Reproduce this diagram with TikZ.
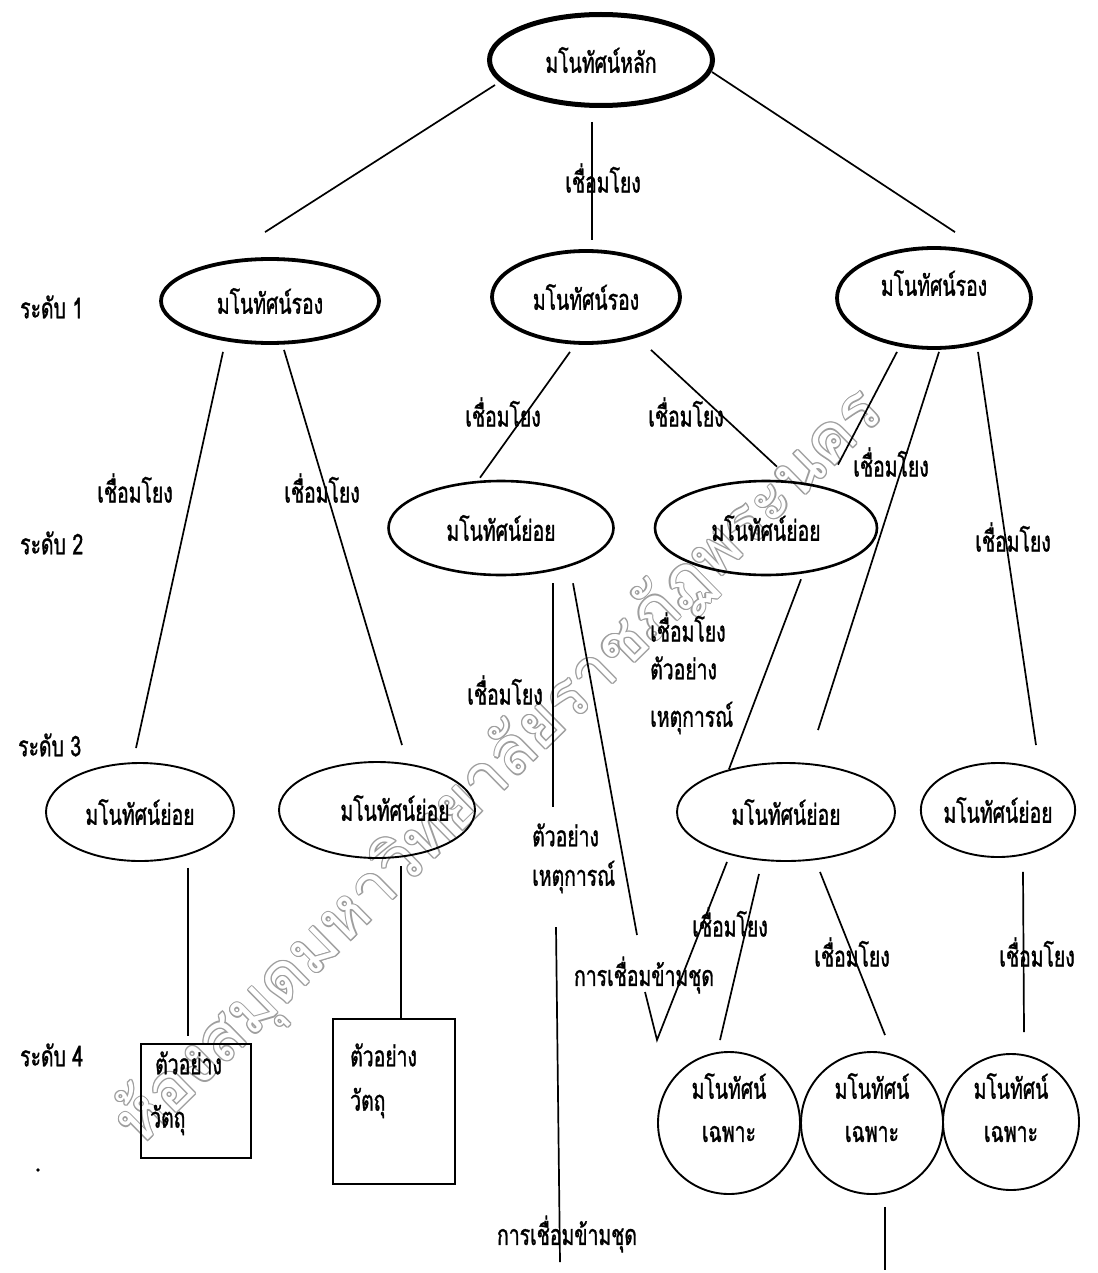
\documentclass[tikz,border=0pt]{standalone}
\usepackage{fontspec}
\newfontfamily\thaifont[Script=Thai,FakeStretch=0.68,FakeBold=1.1]{Loma}
\newfontfamily\markfont[Script=Thai]{Loma}
\usetikzlibrary{shapes.geometric}
\begin{document}
\begin{tikzpicture}[x=1pt,y=-1pt,
  txt/.style={font=\thaifont\fontsize{28.5}{30}\selectfont, inner sep=0pt},
  oval/.style={draw, ellipse, inner sep=0pt, txt},
  topoval/.style={oval, line width=5pt},
  midoval/.style={oval, line width=3.8pt},
  suboval/.style={oval, line width=2.6pt},
  leafoval/.style={oval, line width=1.9pt},
  ring/.style={draw, circle, inner sep=0pt, line width=1.9pt},
  card/.style={draw, rectangle, line width=2pt, inner sep=0pt},
  conn/.style={line width=1.7pt},
  lbl/.style={txt},
  lbll/.style={txt, anchor=west},
  stampstyle/.style={font=\markfont\fontsize{66}{70}\selectfont, rotate=44.5, inner sep=0pt},
]
\useasboundingbox (0,0) rectangle (1097,1273);
\fill[white] (0,0) rectangle (1097,1273);

% library stamp across the sheet, drawn as hollow letters
\foreach \dx/\dy [count=\i] in {1.3/0,-1.3/0,0/1.3,0/-1.3,0.9/0.9,-0.9/0.9,0.9/-0.9,-0.9/-0.9}{
  \node[stampstyle, text=black!38] (stamp-\i) at (500+\dx,768+\dy) {ห้องสมุดมหาวิทยาลัยราชภัฏพระนคร};
}
\node[stampstyle, text=white] (stamp) at (500,768) {ห้องสมุดมหาวิทยาลัยราชภัฏพระนคร};

% level captions
\node[lbll] (lv1) at (20,307) {ระดับ 1};
\node[lbll] (lv2) at (20,543) {ระดับ 2};
\node[lbll] (lv3) at (18,745) {ระดับ 3};
\node[lbll] (lv4) at (20,1055) {ระดับ 4};
\fill (38,1170) circle (1.8);

% main concept
\node[topoval, minimum width=223, minimum height=91] (main) at (601,60) {มโนทัศน์หลัก};

% level 1
\node[midoval, minimum width=218, minimum height=84] (l1a) at (270,301) {มโนทัศน์รอง};
\node[midoval, minimum width=188, minimum height=92] (l1b) at (586,297) {มโนทัศน์รอง};
\node[midoval, minimum width=194, minimum height=100] (l1c) at (934,298) {};
\node[lbl] (l1c-t) at (934,283) {มโนทัศน์รอง};

% level 2
\node[suboval, minimum width=225, minimum height=94] (l2a) at (501,528) {มโนทัศน์ย่อย};
\node[suboval, minimum width=222, minimum height=94] (l2b) at (766,528) {มโนทัศน์ย่อย};

% level 3
\node[leafoval, minimum width=188, minimum height=98] (l3a) at (140,812) {มโนทัศน์ย่อย};
\node[leafoval, minimum width=196, minimum height=96] (l3b) at (377,810) {};
\node[lbl] (l3b-t) at (395,808) {มโนทัศน์ย่อย};
\node[leafoval, minimum width=218, minimum height=98] (l3c) at (786,812) {มโนทัศน์ย่อย};
\node[leafoval, minimum width=146, minimum height=94] (l3d) at (998,810) {มโนทัศน์ย่อย};

% level 4: example boxes
\node[card, minimum width=110, minimum height=114] (box1) at (196,1101) {};
\node[lbll] (box1-a) at (155,1063) {ตัวอย่าง};
\node[lbll] (box1-b) at (150,1120) {วัตถุ};
\node[card, minimum width=122, minimum height=165] (box2) at (394,1101.5) {};
\node[lbll] (box2-a) at (350,1055) {ตัวอย่าง};
\node[lbll] (box2-b) at (350,1103) {วัตถุ};

% level 4: specific concepts
\node[ring, minimum size=142] (c1) at (729,1123) {};
\node[ring, minimum size=142] (c2) at (872,1123) {};
\node[ring, minimum size=136] (c3) at (1011,1122) {};
\foreach \n/\x in {c1/729,c2/872,c3/1011}{
  \node[lbl] (\n-a) at (\x,1086) {มโนทัศน์};
  \node[lbl] (\n-b) at (\x,1134) {เฉพาะ};
}

% loose ends of the cross links
\coordinate (exa) at (553,807);
\coordinate (exb) at (556,927);
\coordinate (exc) at (560,1262);
\coordinate (xa) at (637,935);
\coordinate (xb) at (645,992);
\coordinate (xv) at (657,1040);
\coordinate (tail) at (885,1270);

% connectors
\draw[conn] ([shift={(8,25)}]main.west) -- ([shift={(-5,-25)}]l1a.north);
\draw[conn] ([shift={(-3,12)}]main.east) -- ([shift={(21,-14)}]l1c.north);
\draw[conn] ([shift={(-9,14)}]main.south) -- ([shift={(6,-9)}]l1b.north);

\draw[conn] ([shift={(-47,7)}]l1a.south) -- ([shift={(-4,-14)}]l3a.north);
\draw[conn] ([shift={(14,5)}]l1a.south) -- ([shift={(25,-16)}]l3b.north);

\draw[conn] ([shift={(-16,7)}]l1b.south) -- ([shift={(-21,-2)}]l2a.north);
\draw[conn] ([shift={(65,5)}]l1b.south) -- ([shift={(11,-13)}]l2b.north);

\draw[conn] ([shift={(-37,2)}]l1c.south) -- ([shift={(72,-15)}]l2b.north);
\draw[conn] ([shift={(5,2)}]l1c.south) -- ([shift={(32,-32)}]l3c.north);
\draw[conn] ([shift={(44,2)}]l1c.south) -- ([shift={(38,-17)}]l3d.north);

\draw[conn] ([shift={(52,7)}]l2a.south) -- (exa);
\draw[conn] (exb) -- (exc);
\draw[conn] ([shift={(72,7)}]l2a.south) -- (xa);
\draw[conn] (xb) -- (xv) -- ([shift={(-59,0)}]l3c.south);
\draw[conn] ([shift={(35,3)}]l2b.south) -- ([shift={(-57,7)}]l3c.north);

\draw[conn] ([shift={(48,6)}]l3a.south) -- ([shift={(-8,-7)}]box1.north);
\draw[conn] ([shift={(24,7)}]l3b.south) -- ([shift={(7,0)}]box2.north);

\draw[conn] ([shift={(-27,12)}]l3c.south) -- ([shift={(-9,-11)}]c1.north);
\draw[conn] ([shift={(34,10)}]l3c.south) -- ([shift={(13,-16)}]c2.north);
\draw[conn] ([shift={(25,14)}]l3d.south) -- ([shift={(13,-21)}]c3.north);
\draw[conn] ([shift={(13,12)}]c2.south) -- (tail);

% link labels
\node[lbl] (k0) at (603,178) {เชื่อมโยง};
\node[lbl] (k1) at (135,488) {เชื่อมโยง};
\node[lbl] (k2) at (322,488) {เชื่อมโยง};
\node[lbl] (k3) at (503,412) {เชื่อมโยง};
\node[lbl] (k4) at (686,412) {เชื่อมโยง};
\node[lbl] (k5) at (891,462) {เชื่อมโยง};
\node[lbl] (k6) at (1013,537) {เชื่อมโยง};
\node[lbl] (k7) at (505,690) {เชื่อมโยง};
\node[lbll] (k8a) at (650,627) {เชื่อมโยง};
\node[lbll] (k8b) at (650,668) {ตัวอย่าง};
\node[lbll] (k8c) at (650,718) {เหตุการณ์};
\node[lbll] (k9a) at (532,835) {ตัวอย่าง};
\node[lbll] (k9b) at (532,877) {เหตุการณ์};
\node[lbl] (k10) at (644,975) {การเชื่อมข้ามชุด};
\node[lbl] (k11) at (730,922) {เชื่อมโยง};
\node[lbl] (k12) at (852,952) {เชื่อมโยง};
\node[lbl] (k13) at (1037,952) {เชื่อมโยง};
\node[lbl] (k14) at (567,1234) {การเชื่อมข้ามชุด};
\end{tikzpicture}
\end{document}
